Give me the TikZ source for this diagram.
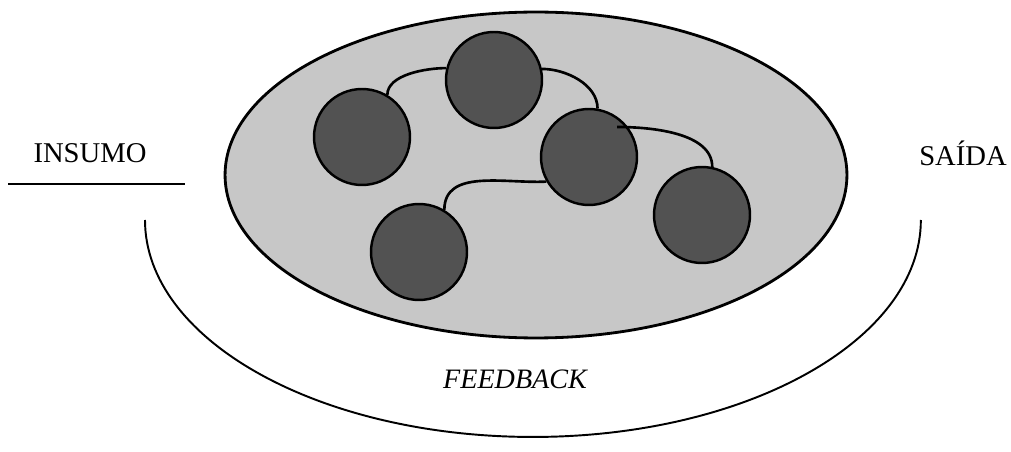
\documentclass[tikz,border=0pt]{standalone}
\usepackage{fontspec}
\setmainfont{Liberation Serif}
\usetikzlibrary{shapes.geometric,calc}
\tikzset{
  sysellipse/.style={ellipse, draw=black, line width=1.6pt, fill=black!22, minimum width=12.44cm, minimum height=6.52cm, inner sep=0pt},
  ball/.style={circle, draw=black, line width=1.4pt, fill=black!68, minimum size=1.92cm, inner sep=0pt},
  link/.style={line width=1.5pt},
  lbl/.style={font=\fontsize{16.3}{19}\selectfont, inner sep=0pt},
  fbline/.style={line width=1.1pt}
}
\begin{document}
\begin{tikzpicture}[x=0.02cm,y=-0.02cm]
\useasboundingbox (0,0) rectangle (1011,452);
\node[sysellipse] (S) at (536,175) {};
\node[ball] (A) at (362,137) {};
\node[ball] (B) at (494,80) {};
\node[ball] (C) at (589,157) {};
\node[ball] (D) at (419,252) {};
\node[ball] (E) at (702,215) {};
\draw[link] (A.59) to[out=90,in=180,looseness=0.8] (B.166);
\draw[link] (B.13) to[out=0,in=90,looseness=0.9] (C.80);
\coordinate (Cin) at ($(C)+(28,-30)$);
\draw[link] (Cin) to[out=0,in=90,looseness=0.85] (E.78);
\draw[link] (C.210) to[out=183,in=90] (D.59);
\node[lbl] (in) at (90,153) {INSUMO};
\node[lbl] (out) at (963,153) {SAÍDA};
\node[lbl, font=\fontsize{16}{19}\selectfont\itshape] (fb) at (515,379) {FEEDBACK};
\coordinate (inL) at (8,184);
\coordinate (inR) at (185,184);
\draw[line width=1.6pt] (inL) -- (inR);
\coordinate (fbL) at (145,220);
\draw[fbline] (fbL) arc[start angle=180, end angle=360, x radius=7.76cm, y radius=4.34cm];
\end{tikzpicture}
\end{document}
